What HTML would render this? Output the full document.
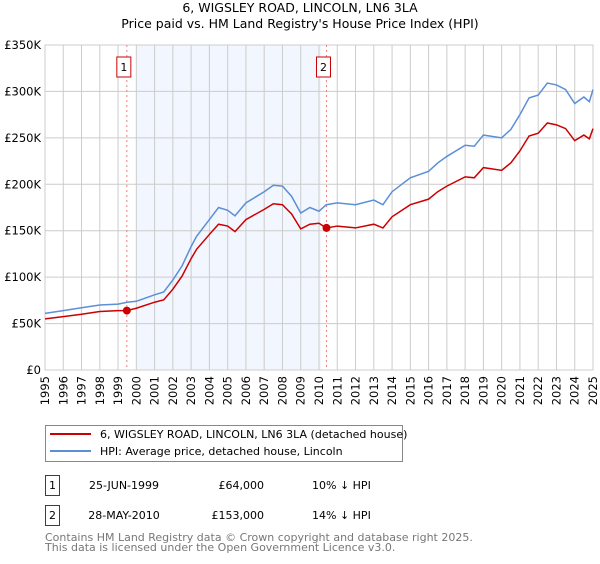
<!DOCTYPE html>
<html><head><meta charset="utf-8"><style>
body{margin:0;background:#fff;font-family:"DejaVu Sans","Liberation Sans",sans-serif}
svg text{font-family:"DejaVu Sans","Liberation Sans",sans-serif}
</style></head><body>
<svg id="chart" width="600" height="560" xmlns="http://www.w3.org/2000/svg">
<text x="300" y="12" text-anchor="middle" font-size="12.5">6, WIGSLEY ROAD, LINCOLN, LN6 3LA</text>
<text x="300" y="28" text-anchor="middle" font-size="12.5">Price paid vs. HM Land Registry's House Price Index (HPI)</text>
<g id="plot"></g>
<g>
<rect x="45.5" y="425.5" width="357" height="36" fill="#fff" stroke="#888"/>
<line x1="50" y1="434" x2="91" y2="434" stroke="#cc0000" stroke-width="2"/>
<text x="100" y="438" font-size="11">6, WIGSLEY ROAD, LINCOLN, LN6 3LA (detached house)</text>
<line x1="50" y1="451" x2="91" y2="451" stroke="#5b8fd6" stroke-width="2"/>
<text x="100" y="455" font-size="11">HPI: Average price, detached house, Lincoln</text>
</g>
<g font-size="11">
<rect x="45.5" y="475.5" width="14" height="20" fill="#fff" stroke="#cc0000"/>
<text x="52.5" y="489" text-anchor="middle">1</text>
<text x="124" y="489" text-anchor="middle">25-JUN-1999</text>
<text x="264" y="489" text-anchor="end">£64,000</text>
<text x="312" y="489">10% ↓ HPI</text>
</g>
<g font-size="11">
<rect x="45.5" y="505.5" width="14" height="20" fill="#fff" stroke="#cc0000"/>
<text x="52.5" y="519" text-anchor="middle">2</text>
<text x="124" y="519" text-anchor="middle">28-MAY-2010</text>
<text x="264" y="519" text-anchor="end">£153,000</text>
<text x="312" y="519">14% ↓ HPI</text>
</g>
<text x="45" y="541" font-size="11" fill="#777">Contains HM Land Registry data © Crown copyright and database right 2025.</text>
<text x="45" y="551" font-size="11" fill="#777">This data is licensed under the Open Government Licence v3.0.</text>
</svg>
<script>
const hpiYears=[1995,1996,1997,1998,1999,1999.5,2000,2001,2001.5,2002,2002.5,2003,2003.3,2004,2004.5,2005,2005.4,2006,2007,2007.5,2008,2008.5,2009,2009.5,2010,2010.4,2011,2012,2013,2013.5,2014,2015,2016,2016.5,2017,2018,2018.5,2019,2020,2020.5,2021,2021.5,2022,2022.5,2023,2023.5,2024,2024.5,2024.8,2025];
const hpiValues=[61,64,67,70,71,73,74,81,84,97,112,133,144,162,175,172,166,180,192,199,198,187,169,175,171,178,180,178,183,178,192,207,214,223,230,242,241,253,250,259,275,293,296,309,307,302,287,294,289,302];
const priceYears=[1995,1996,1997,1998,1999,1999.48,2000,2001,2001.5,2002,2002.5,2003,2003.3,2004,2004.5,2005,2005.4,2006,2007,2007.5,2008,2008.5,2009,2009.5,2010,2010.4,2011,2012,2013,2013.5,2014,2015,2016,2016.5,2017,2018,2018.5,2019,2020,2020.5,2021,2021.5,2022,2022.5,2023,2023.5,2024,2024.5,2024.8,2025];
const priceValues=[55,57.5,60,63,64,64,66.5,73,75.5,87,101,120,130,146,157,155,149,162,173,179,178,168,152,157,158,153,155,153,157,153,165,178,184,192,198,208,207,218,215,223,236,252,255,266,264,260,247,253,249,260];
const sales=[{n:"1",year:1999.48,value:64},{n:"2",year:2010.41,value:153}];
const yTicks=[0,50,100,150,200,250,300,350];
const yTickLabels=["£0","£50K","£100K","£150K","£200K","£250K","£300K","£350K"];
const xTicks=[1995,1996,1997,1998,1999,2000,2001,2002,2003,2004,2005,2006,2007,2008,2009,2010,2011,2012,2013,2014,2015,2016,2017,2018,2019,2020,2021,2022,2023,2024,2025];

const X0=45,X1=593,Y0=370,Y1=45;
const xs=y=>X0+(y-1995)/30*(X1-X0);
const ys=v=>Y0-v/350*(Y0-Y1);
const NS="http://www.w3.org/2000/svg";
const g=document.getElementById('plot');
function mk(t,a){const e=document.createElementNS(NS,t);for(const k in a)e.setAttribute(k,a[k]);g.appendChild(e);return e;}
let e;
e=mk('rect',{x:xs(2000),y:Y1,width:xs(2010.1)-xs(2000),height:Y0-Y1,fill:'#eef3fd',opacity:0.75});


xTicks.forEach(t=>{
 e=mk('line',{x1:xs(t),x2:xs(t),y1:Y1,y2:Y0,stroke:'#ccc','stroke-width':1});
 
 
 e=mk('text',{x:0,y:0,'font-size':11.5,'text-anchor':'end',transform:`translate(${xs(t)+4},${Y0+6}) rotate(-90)`});
 e.textContent=t;
 
 
});
yTicks.forEach((t,i)=>{
 e=mk('line',{x1:X0,x2:X1,y1:ys(t),y2:ys(t),stroke:'#ccc','stroke-width':1});
 
 
 e=mk('text',{x:X0-4,y:ys(t)+4,'font-size':11.5,'text-anchor':'end'});
 e.textContent=yTickLabels[i];
 
 
});
e=mk('rect',{x:X0,y:Y1,width:X1-X0,height:Y0-Y1,fill:'none',stroke:'#ccc'});


sales.forEach(s=>{
 e=mk('line',{x1:xs(s.year),x2:xs(s.year),y1:Y1,y2:Y0,stroke:'#f08080','stroke-dasharray':'2,3'});
 
 
});
e=mk('polyline',{points:hpiYears.map((y,i)=>xs(y)+','+ys(hpiValues[i])).join(' '),fill:'none',stroke:'#5b8fd6','stroke-width':1.5});


e=mk('polyline',{points:priceYears.map((y,i)=>xs(y)+','+ys(priceValues[i])).join(' '),fill:'none',stroke:'#cc0000','stroke-width':1.5});


sales.forEach(s=>{
 e=mk('circle',{cx:xs(s.year),cy:ys(s.value),r:4,fill:'#cc0000'});
 
 
 const cx=xs(s.year)-3;
 e=mk('rect',{x:cx-7,y:57,width:14,height:20,fill:'#fff',stroke:'#cc0000'});
 
 
 e=mk('text',{x:cx,y:71,'font-size':11,'text-anchor':'middle'});
 e.textContent=s.n;
 
 
});
</script>
</body></html>
